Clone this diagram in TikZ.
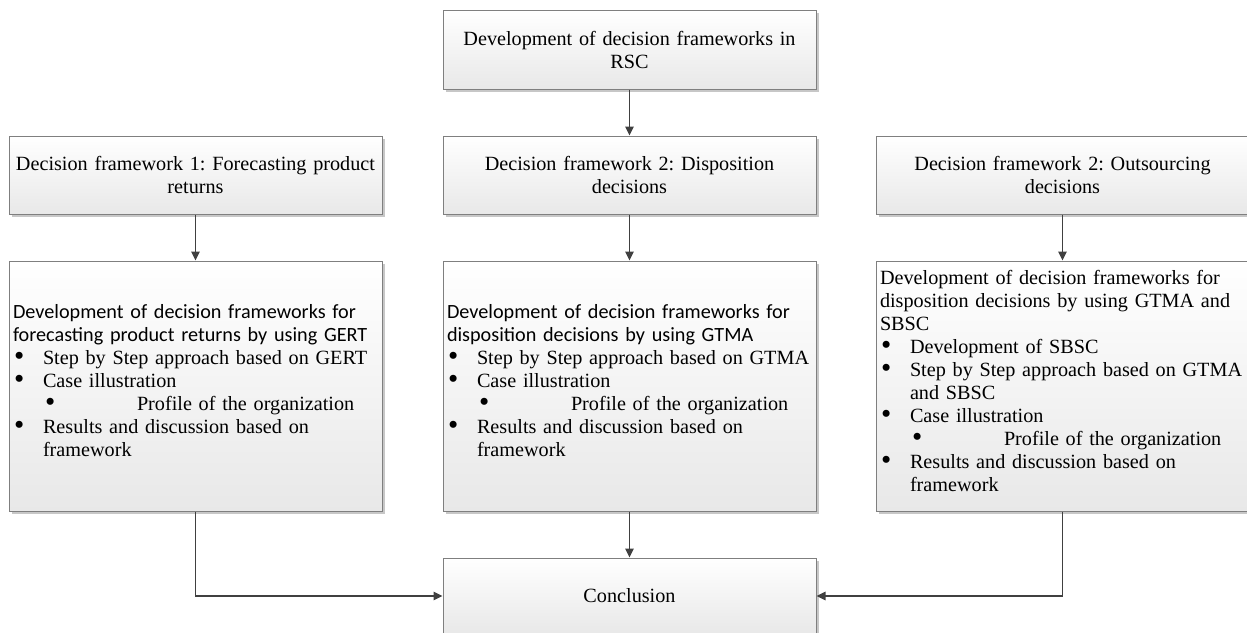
\documentclass[tikz,border=0pt]{standalone}
\usepackage{fontspec}
\setmainfont{Liberation Serif}
\newfontfamily\calib{Carlito}
\usetikzlibrary{arrows.meta,shadows}

\definecolor{boxline}{HTML}{7F7F7F}
\definecolor{wire}{HTML}{404040}

% bullet lines inside the large boxes
\newcommand\dotmark{\raisebox{-0.07em}{\scalebox{1.45}{\textbullet}}}
\newcommand\plain[1]{\hspace*{3pt}\mbox{#1}}
\newcommand\sans[1]{\hspace*{3pt}\mbox{\calib #1}}
\newcommand\bul[1]{\hspace*{4pt}\makebox[29pt][l]{\dotmark}\mbox{#1}}
\newcommand\subbul[1]{\hspace*{35pt}\makebox[92pt][l]{\dotmark}\mbox{#1}}
\newcommand\cont[1]{\hspace*{33pt}\mbox{#1}}
% an empty strut line under the last line lifts the block a little
\newcommand\lift{\\[-12pt]\rule{0pt}{0pt}}

\begin{document}
\begin{tikzpicture}[x=1pt,y=-1pt,
  box/.style={draw=boxline, line width=1pt,
    top color=white, bottom color=black!9,
    drop shadow={shadow xshift=2.5pt, shadow yshift=-2.5pt, fill=black!22, opacity=1},
    minimum width=373pt, text width=371pt, inner xsep=1pt, inner ysep=3pt,
    font=\fontsize{20.2}{23}\selectfont\frenchspacing},
  headbox/.style={box, align=center, minimum height=78pt},
  bodybox/.style={box, align=left, minimum height=250pt},
  conn/.style={draw=wire, line width=1.3pt, -{Triangle[length=9pt,width=8.5pt]}}]

\useasboundingbox (0,0) rectangle (1247,632);

% top level
\node[headbox, minimum height=79pt] (top) at (629.5,49.5)
  {Development of decision frameworks in\\RSC};

% the three decision frameworks
\node[headbox] (l2) at (195.5,175) {Decision framework 1: Forecasting product\\returns};
\node[headbox] (m2) at (629.5,175) {Decision framework 2: Disposition\\decisions};
\node[headbox] (r2) at (1062.5,175) {Decision framework 2: Outsourcing\\decisions};

% detailed contents
\node[bodybox] (l3) at (195.5,386) {%
  \sans{Development of decision frameworks for}\\
  \sans{forecasting product returns by using GERT}\\
  \bul{Step by Step approach based on GERT}\\
  \bul{Case illustration}\\
  \subbul{Profile of the organization}\\
  \bul{Results and discussion based on}\\
  \cont{framework}\lift};

\node[bodybox] (m3) at (629.5,386) {%
  \sans{Development of decision frameworks for}\\
  \sans{disposition decisions by using GTMA}\\
  \bul{Step by Step approach based on GTMA}\\
  \bul{Case illustration}\\
  \subbul{Profile of the organization}\\
  \bul{Results and discussion based on}\\
  \cont{framework}\lift};

\node[bodybox] (r3) at (1062.5,386) {%
  \plain{Development of decision frameworks for}\\
  \plain{disposition decisions by using GTMA and}\\
  \plain{SBSC}\\
  \bul{Development of SBSC}\\
  \bul{Step by Step approach based on GTMA}\\
  \cont{and SBSC}\\
  \bul{Case illustration}\\
  \subbul{Profile of the organization}\\
  \bul{Results and discussion based on}\\
  \cont{framework}\lift};

% final step
\node[headbox, minimum height=76pt] (conc) at (629.5,596) {Conclusion};

% connectors
\draw[conn] (top) -- (m2);
\draw[conn] (l2) -- (l3);
\draw[conn] (m2) -- (m3);
\draw[conn] (r2) -- (r3);
\draw[conn] (m3) -- (conc);
\draw[conn] (l3.south) |- (conc.west);
\draw[conn] (r3.south) |- (conc.east);
\end{tikzpicture}
\end{document}
